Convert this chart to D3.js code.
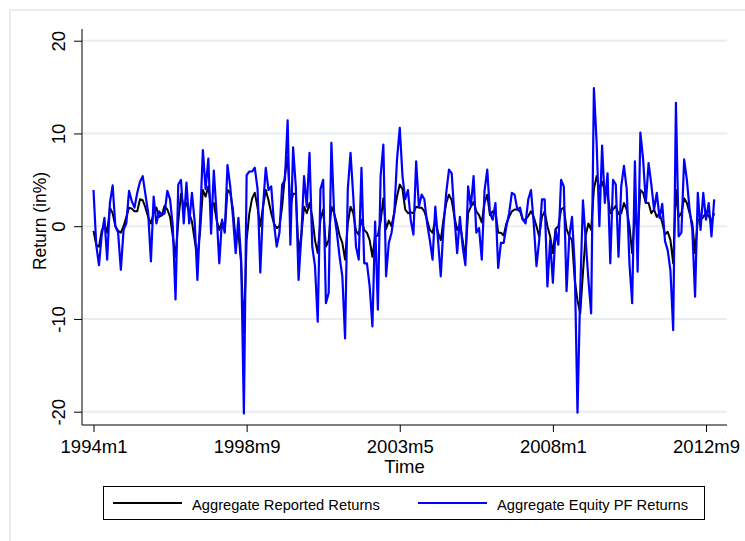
<!DOCTYPE html>
<html>
<head>
<meta charset="utf-8">
<script src="https://cdn.jsdelivr.net/npm/d3@7"></script>
<style>
	body { margin: 0; background: #fff; }
	text { font-family: "Liberation Sans", Arial, sans-serif; fill: #000; }
</style>
</head>
<body>
<svg id="chart"></svg>
<script>
// monthly returns in %, 1994m1 .. 2012m12
var startYear = 1994, startMonth = 1;

var reported = [
	-0.5, -2.0, -2.2, -0.5, 0.2, -0.7, 2.0, 1.4, 0.0, -0.5,
	-0.7, 0.0, 1.0, 2.0, 1.9, 1.6, 1.6, 2.9, 2.8, 2.0,
	1.0, 0.3, 1.4, 2.0, 1.0, 1.2, 2.2, 1.8, 1.0, -1.1,
	-3.3, 0.5, 3.5, 2.0, 2.5, 1.4, 0.5, -1.5, -3.3, -0.5,
	3.9, 3.2, 4.3, 2.0, 2.5, 0.7, -0.4, 0.5, -0.5, 3.9,
	3.6, 1.8, -1.5, -0.7, -4.0, -11.5, -1.5, 1.4, 3.0, 3.6,
	2.0, 0.0, 2.1, 3.9, 2.8, 1.4, 0.3, -0.2, 0.0, 2.1,
	5.5, 7.5, 2.1, 3.5, 3.5, -2.9, -1.0, 2.1, 1.4, 2.5,
	1.0, -1.5, -2.9, 0.7, 1.8, -2.2, -1.5, 2.1, 1.4, 0.3,
	-1.0, -1.8, -3.6, 0.3, 2.1, 1.4, -0.5, -0.9, 0.7, -0.4,
	-0.7, -1.5, -3.3, -1.1, -1.0, 0.5, 3.0, -0.3, 0.6, 0.0,
	1.5, 3.2, 4.5, 4.0, 1.8, 1.4, 1.5, 1.4, 2.1, 2.0,
	2.0, 1.6, 0.7, -0.4, -0.7, 0.7, -0.7, -1.5, 0.7, 2.5,
	3.4, 2.8, 1.0, -0.4, 0.2, -1.5, -3.3, 1.4, 2.1, 2.6,
	1.6, 1.2, 0.4, 2.5, 3.4, 1.2, 1.6, 1.6, -0.7, -0.7,
	-1.0, 0.3, 1.0, 1.6, 1.8, 1.8, 1.6, 0.7, 0.7, 1.1,
	1.6, 1.0, 0.0, -1.1, 1.0, 1.6, 0.0, -1.1, -2.9, -0.3,
	0.0, 1.8, 2.0, -0.3, -1.1, -1.5, -5.8, -8.0, -9.4, -5.0,
	-1.0, 0.3, -0.4, 4.0, 5.4, 4.0, 4.8, 3.8, 3.4, 1.4,
	1.8, 2.2, 1.3, 1.4, 2.5, 1.8, 0.0, -2.9, 1.4, -0.7,
	3.9, 3.6, 2.5, 2.5, 1.4, 1.8, 1.0, 1.4, 0.4, -0.9,
	-0.6, -1.5, -4.0, 3.9, 1.0, 1.4, 3.0, 2.5, 1.4, 0.3,
	-2.9, 0.7, 0.7, 1.0, 1.4, 1.1, 0.5, 1.4
];

var equityPF = [
	3.9, -2.0, -4.2, -1.0, 0.9, -3.6, 2.5, 4.4, 0.0, -0.7,
	-4.7, -0.4, 0.3, 3.8, 2.7, 2.0, 3.6, 4.8, 5.4, 3.4,
	1.4, -3.8, 3.2, 0.3, 1.6, 1.2, 1.4, 3.8, 2.9, 0.0,
	-7.9, 4.5, 5.0, 0.3, 4.7, 0.3, 3.6, 0.5, -5.8, 0.8,
	8.2, 4.0, 7.3, -0.8, 6.0, 1.4, -4.0, 0.7, -0.7, 6.6,
	4.3, 1.0, -2.9, 0.9, -3.6, -20.2, 5.5, 5.9, 5.9, 6.3,
	4.0, -5.0, 2.1, 6.3, 3.9, 4.3, 0.3, -2.2, -0.7, 4.5,
	5.0, 11.4, -2.0, 8.5, 4.2, -5.8, -1.1, 5.4, 2.1, 7.9,
	-2.2, -4.3, -10.3, 4.0, 5.0, -8.3, -7.2, 9.0, 1.4, -0.7,
	-3.3, -5.4, -12.1, 4.0, 7.9, 3.2, -2.2, -3.6, 6.3, -4.0,
	-4.0, -6.5, -10.8, 0.5, -9.0, 5.4, 8.8, -5.4, -1.8, -0.7,
	1.4, 7.2, 10.6, 5.4, 2.9, 3.9, 0.7, -0.9, 7.0, 2.1,
	3.4, 2.9, 0.3, -1.5, -3.6, 2.1, -1.5, -5.4, 0.0, 3.6,
	6.1, 5.7, 1.0, -2.9, 1.0, -2.2, -4.2, 4.3, 2.1, 5.4,
	-0.7, -0.2, -3.6, 3.8, 6.1, 1.4, 0.7, 2.5, -4.5, -1.8,
	-1.8, 0.0, 1.4, 3.6, 3.4, 1.8, 2.0, 0.7, 0.3, 2.9,
	3.9, 0.3, -4.3, -1.5, 2.9, 2.9, -6.5, -1.5, -6.1, -0.4,
	-2.0, 5.0, 4.3, -7.0, -1.1, 1.0, -4.3, -20.1, -7.0, 2.8,
	-1.5, -5.8, -9.4, 14.9, 9.0, 0.0, 8.7, 2.5, 5.7, -4.0,
	5.0, 4.5, -3.3, 4.3, 6.5, 4.0, -4.0, -8.3, 7.0, -4.9,
	10.1, 7.2, 2.5, 6.8, 4.5, 1.8, 3.6, 0.9, 2.4, -1.6,
	-2.6, -4.8, -11.2, 13.3, -1.1, -0.7, 7.2, 5.0, 1.8, -0.4,
	-7.6, 3.6, -0.4, 3.6, 0.7, 2.5, -1.1, 2.9
];

var xTickLabels = ["1994m1", "1998m9", "2003m5", "2008m1", "2012m9"];
var yTicks = [-20, -10, 0, 10, 20];
var seriesNames = ["Aggregate Reported Returns", "Aggregate Equity PF Returns"];
var seriesColors = ["#000000", "#0000ff"];

function monthIndex(label) {
	var p = label.split("m");
	return (+p[0] - startYear) * 12 + (+p[1] - startMonth);
}

var width = 745, height = 541;
var plotLeft = 82, plotRight = 727, plotTop = 29, plotBottom = 425;
var gridColor = "#e8eef0";

var x = d3.scaleLinear()
	.domain([monthIndex(xTickLabels[0]), monthIndex(xTickLabels[xTickLabels.length - 1])])
	.range([93.5, 706]);
var y = d3.scaleLinear().domain([-20, 20]).range([411.7, 40.7]);

var svg = d3.select("#chart").attr("width", width).attr("height", height);

svg.append("rect").attr("width", width).attr("height", height).attr("fill", "#fff");

// outer graph frame
svg.append("rect")
	.attr("x", 10).attr("y", 10)
	.attr("width", 745).attr("height", 545)
	.attr("fill", "none")
	.attr("stroke", gridColor)
	.attr("stroke-width", 2);

svg.append("g").attr("class", "grid")
	.selectAll("line")
	.data(yTicks)
	.enter().append("line")
	.attr("x1", plotLeft).attr("x2", plotRight)
	.attr("y1", function(d) { return y(d); })
	.attr("y2", function(d) { return y(d); })
	.attr("stroke", gridColor)
	.attr("stroke-width", 2);

var line = d3.line()
	.x(function(d, i) { return x(i); })
	.y(function(d) { return y(d); });

var series = [reported, equityPF];
svg.append("g").attr("class", "series")
	.selectAll("path")
	.data(series)
	.enter().append("path")
	.attr("d", line)
	.attr("fill", "none")
	.attr("stroke", function(d, i) { return seriesColors[i]; })
	.attr("stroke-width", function(d, i) { return i == 0 ? 2 : 2.2; })
	.attr("stroke-linejoin", "round");

// y axis
var yAxis = svg.append("g")
	.attr("transform", "translate(" + plotLeft + ",0)")
	.call(d3.axisLeft(y).tickValues(yTicks)
		.tickFormat(function(d) { return String(d); })
		.tickSize(8).tickSizeOuter(0));
yAxis.select(".domain").remove();
yAxis.selectAll("line").attr("stroke", "#000");
yAxis.selectAll("text")
	.attr("x", null).attr("dy", null)
	.attr("transform", "translate(-17,0) rotate(-90)")
	.style("text-anchor", "middle")
	.style("font-size", "18.5px");
svg.append("line")
	.attr("x1", plotLeft).attr("x2", plotLeft)
	.attr("y1", plotTop).attr("y2", plotBottom)
	.attr("stroke", "#000");

// x axis
var xAxis = svg.append("g")
	.attr("transform", "translate(0," + plotBottom + ")")
	.call(d3.axisBottom(x)
		.tickValues(xTickLabels.map(monthIndex))
		.tickFormat(function(d, i) { return xTickLabels[i]; })
		.tickSize(7).tickPadding(8).tickSizeOuter(0));
xAxis.select(".domain").remove();
xAxis.selectAll("line").attr("stroke", "#000");
xAxis.selectAll("text").style("font-size", "18.5px");
svg.append("line")
	.attr("x1", plotLeft).attr("x2", plotRight)
	.attr("y1", plotBottom).attr("y2", plotBottom)
	.attr("stroke", "#000");

svg.append("text")
	.attr("transform", "translate(46,221) rotate(-90)")
	.style("text-anchor", "middle")
	.style("font-size", "17.5px")
	.text("Return (in%)");

svg.append("text")
	.attr("x", (plotLeft + plotRight) / 2)
	.attr("y", 473)
	.style("text-anchor", "middle")
	.style("font-size", "18.5px")
	.text("Time");

// legend
svg.append("rect")
	.attr("x", 103.5).attr("y", 486.5)
	.attr("width", 601).attr("height", 33)
	.attr("fill", "#fff")
	.attr("stroke", "#000");

var legendX = [113, 418];
var legend = svg.selectAll(".legend")
	.data(seriesNames)
	.enter().append("g")
	.attr("class", "legend")
	.attr("transform", function(d, i) { return "translate(" + legendX[i] + ",503)"; });

legend.append("line")
	.attr("x1", 0).attr("x2", 69)
	.attr("stroke", function(d, i) { return seriesColors[i]; })
	.attr("stroke-width", 2);

legend.append("text")
	.attr("x", 79)
	.attr("y", 7)
	.style("font-size", "14.7px")
	.text(function(d) { return d; });
</script>
</body>
</html>
